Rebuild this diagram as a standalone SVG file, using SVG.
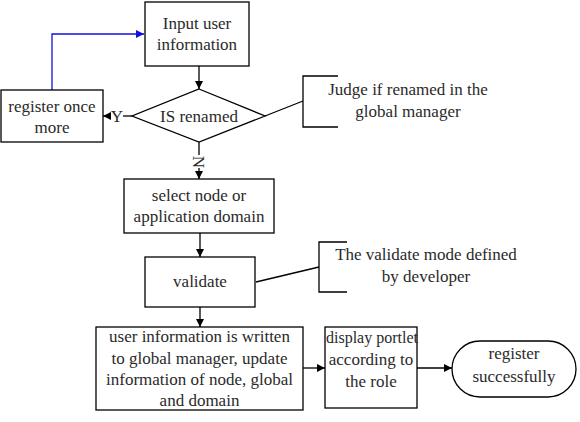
<svg xmlns="http://www.w3.org/2000/svg" width="580" height="422" viewBox="0 0 580 422">
<defs>
<marker id="ah" viewBox="0 0 10 10" refX="10" refY="5" markerWidth="8" markerHeight="8" markerUnits="userSpaceOnUse" orient="auto"><path d="M0,0 L10,5 L0,10 z" fill="#000"/></marker>
<marker id="ahb" viewBox="0 0 10 10" refX="10" refY="5" markerWidth="8" markerHeight="8" markerUnits="userSpaceOnUse" orient="auto"><path d="M0,0 L10,5 L0,10 z" fill="#1010e0"/></marker>
<style>
.n{fill:#fff;stroke:#000;stroke-width:1.3}
.t{font-family:'Liberation Serif', 'DejaVu Serif', serif;font-size:17px;fill:#2a2a2a;text-anchor:middle}
.c{fill:none;stroke:#000;stroke-width:1.3}
</style>
</defs>
<rect width="580" height="422" fill="#fff"/>
<g id="connectors">
<path class="c" d="M199,66 V89" marker-end="url(#ah)"/>
<path class="c" d="M132,116 H103" marker-end="url(#ah)"/>
<path class="c" d="M199,142 V179" marker-end="url(#ah)"/>
<path class="c" d="M52,90 V34 H144" style="stroke:#1010e0" marker-end="url(#ahb)"/>
<path class="c" d="M200,233 V257" marker-end="url(#ah)"/>
<path class="c" d="M200,307 V327" marker-end="url(#ah)"/>
<path class="c" d="M303,368 H325" marker-end="url(#ah)"/>
<path class="c" d="M417,368 H452" marker-end="url(#ah)"/>
<path class="c" d="M265,116 L303,101"/>
<path class="c" d="M256,282 L319,267"/>
<rect x="111" y="109" width="12" height="14" fill="#fff"/>
<text class="t" x="117" y="122">Y</text>
<rect x="192" y="155" width="14" height="13" fill="#fff"/>
<text class="t" transform="translate(199,162) rotate(90)" y="6">N</text>
</g>
<g id="input">
<rect class="n" x="145" y="2" width="104" height="64"/>
<text class="t" x="197" y="29">Input user</text>
<text class="t" x="197" y="50">information</text>
</g>
<g id="renamed">
<polygon class="n" points="199,89 265,116 199,142 132,116"/>
<text class="t" x="199" y="122">IS renamed</text>
</g>
<g id="register-once">
<rect class="n" x="1" y="90" width="102" height="52"/>
<text class="t" x="52" y="112">register once</text>
<text class="t" x="52" y="133">more</text>
</g>
<g id="judge-note">
<path class="c" d="M338,76 H303 V127 H338"/>
<text class="t" x="408" y="95">Judge if renamed in the</text>
<text class="t" x="408" y="117">global manager</text>
</g>
<g id="select">
<rect class="n" x="124" y="179" width="150" height="54"/>
<text class="t" x="199" y="201">select node or</text>
<text class="t" x="199" y="222">application domain</text>
</g>
<g id="validate">
<rect class="n" x="145" y="257" width="110" height="50"/>
<text class="t" x="200" y="287">validate</text>
</g>
<g id="validate-note">
<path class="c" d="M347,242 H319 V292 H347"/>
<text class="t" x="426" y="260">The validate mode defined</text>
<text class="t" x="426" y="282">by developer</text>
</g>
<g id="write">
<rect class="n" x="96" y="327" width="207" height="83"/>
<text class="t" x="199.5" y="342">user information is written</text>
<text class="t" x="199.5" y="364">to global manager, update</text>
<text class="t" x="199.5" y="385">information of node, global</text>
<text class="t" x="199.5" y="406">and domain</text>
</g>
<g id="display">
<rect class="n" x="325" y="327" width="92" height="81"/>
<text class="t" x="372" y="343" style="font-size:16px">display portlet</text>
<text class="t" x="371" y="365">according to</text>
<text class="t" x="371" y="387">the role</text>
</g>
<g id="success">
<rect class="n" x="452" y="341" width="124" height="56" rx="28"/>
<text class="t" x="514" y="359">register</text>
<text class="t" x="514" y="382">successfully</text>
</g>
</svg>
